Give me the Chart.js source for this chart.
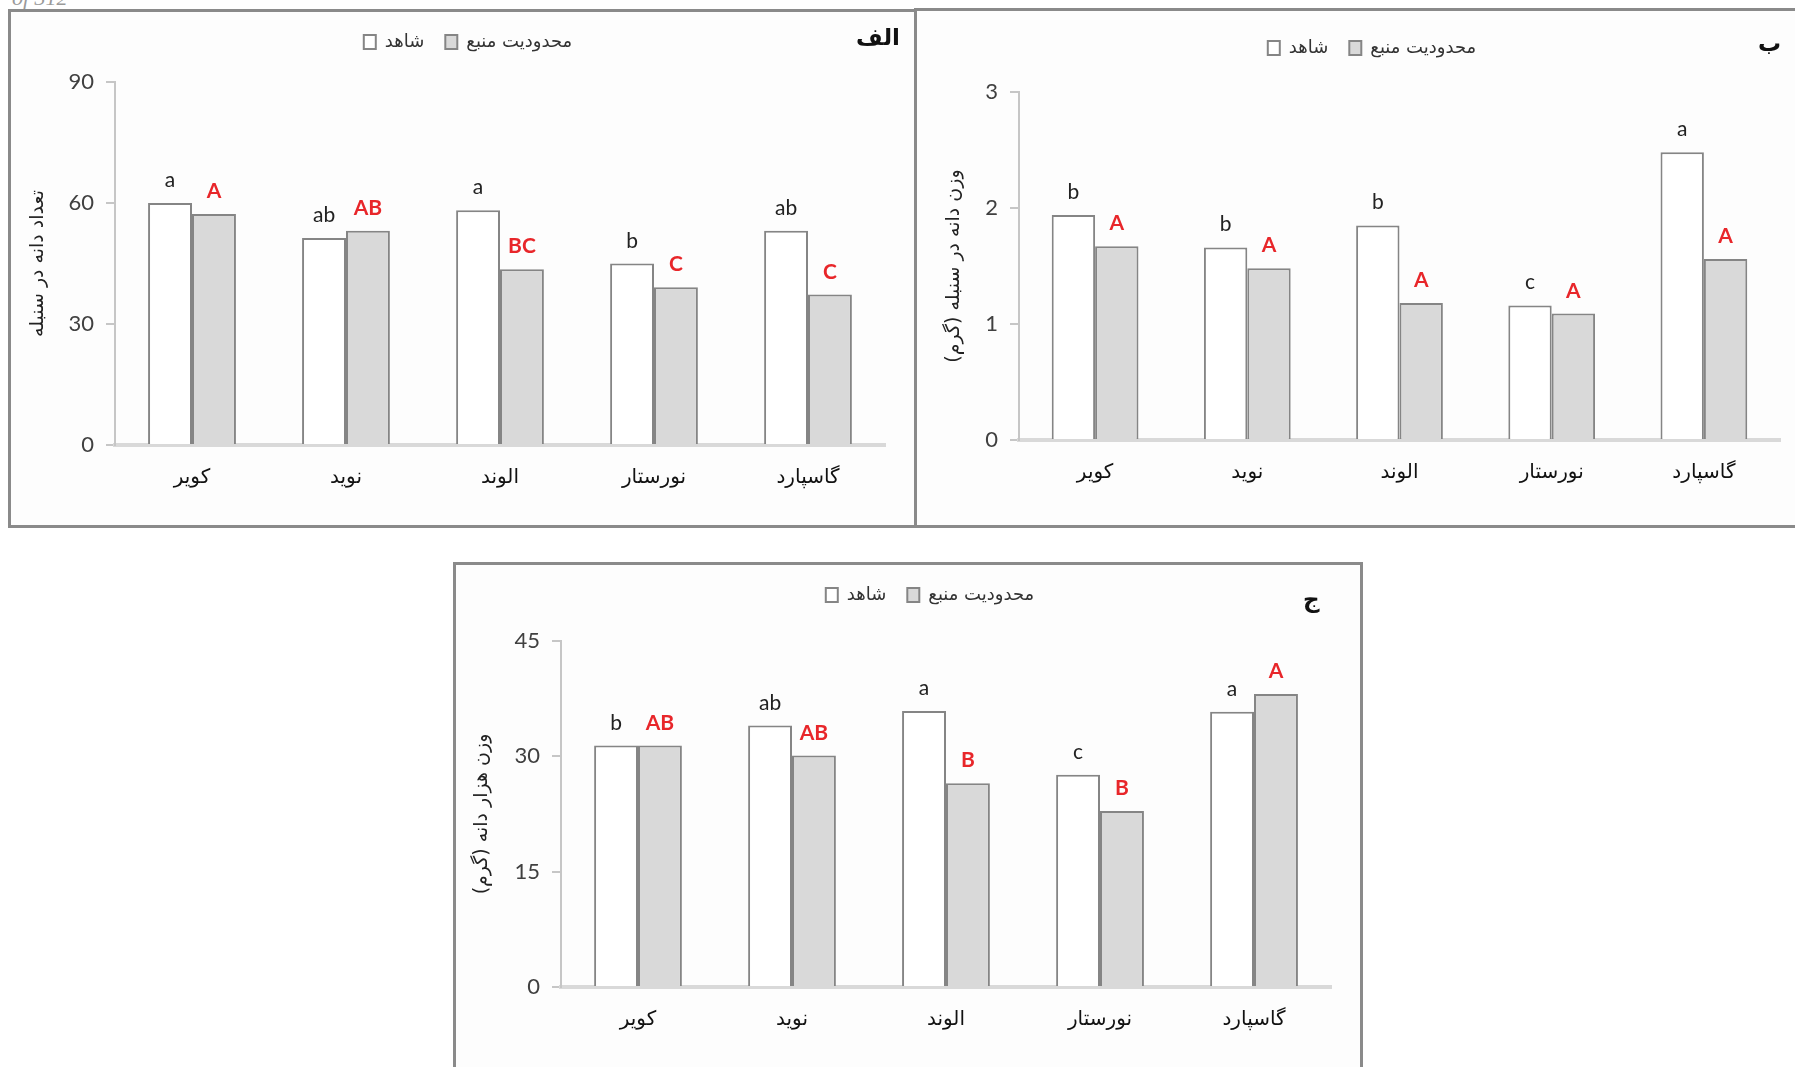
<!DOCTYPE html>
<html lang="fa">
<head>
<meta charset="utf-8">
<script src="https://cdn.jsdelivr.net/npm/chart.js@4.4.0/dist/chart.umd.min.js"></script>
<style>
  html, body { margin: 0; padding: 0; background: #fff; }
  body { width: 1795px; height: 1067px; position: relative; overflow: hidden; font-family: 'DejaVu Sans', sans-serif; }
  .panel { position: absolute; border: 3px solid #8a8a8a; box-sizing: border-box; background: #fdfdfd; }
  canvas { position: absolute; }
  .tag { position: absolute; font-weight: bold; font-size: 23px; color: #111; direction: rtl; white-space: nowrap; }
  .page { position: absolute; left: 12px; top: -15px; font: italic 22px 'Liberation Serif', serif; color: #9a9a9a; }
</style>
</head>
<body>
<div class="page">of 312</div>

<div class="panel" style="left:8px;top:9px;width:910px;height:519px;"></div>
<div class="panel" style="left:914px;top:8px;width:900px;height:520px;"></div>
<div class="panel" style="left:453px;top:562px;width:910px;height:520px;"></div>

<canvas id="chartA" width="903" height="512" style="left:11px;top:12px;width:903px;height:512px;"></canvas>
<canvas id="chartB" width="877" height="512" style="left:918px;top:12px;width:877px;height:512px;"></canvas>
<canvas id="chartC" width="904" height="502" style="left:456px;top:565px;width:904px;height:502px;"></canvas>

<div class="tag" style="left:856px;top:24px;">الف</div>
<div class="tag" style="left:1758px;top:30px;">ب</div>
<div class="tag" style="left:1303px;top:586px;">ج</div>

<script>
// Cultivars (x categories) and the two treatments
const cultivars = ['کویر', 'نوید', 'الوند', 'نورستار', 'گاسپارد'];
const seriesNames = ['شاهد', 'محدودیت منبع'];

// (الف) grains per spike
const grainsControl = [60.0, 51.3, 58.2, 45.0, 53.1];
const grainsLimited = [57.3, 53.1, 43.6, 39.1, 37.3];
const grainsControlLetters = ['a', 'ab', 'a', 'b', 'ab'];
const grainsLimitedLetters = ['A', 'AB', 'BC', 'C', 'C'];
const grainsTicks = [0, 30, 60, 90];

// (ب) grain weight per spike (g)
const spikeWtControl = [1.94, 1.66, 1.85, 1.16, 2.48];
const spikeWtLimited = [1.67, 1.48, 1.18, 1.09, 1.56];
const spikeWtControlLetters = ['b', 'b', 'b', 'c', 'a'];
const spikeWtLimitedLetters = ['A', 'A', 'A', 'A', 'A'];
const spikeWtTicks = [0, 1, 2, 3];

// (ج) thousand grain weight (g)
const tgwControl = [31.4, 34.0, 35.9, 27.6, 35.8];
const tgwLimited = [31.4, 30.1, 26.5, 22.9, 38.1];
const tgwControlLetters = ['b', 'ab', 'a', 'c', 'a'];
const tgwLimitedLetters = ['AB', 'AB', 'B', 'B', 'A'];
const tgwTicks = [0, 15, 30, 45];

const FA_FONT = "'DejaVu Sans', sans-serif";
const NUM_FONT = "Lato, 'Open Sans', sans-serif";

// Mean-separation letters written above each bar
function lettersPlugin(sets) {
  return {
    id: 'meanLetters',
    afterDatasetsDraw(chart) {
      const ctx = chart.ctx;
      sets.forEach((set, di) => {
        const meta = chart.getDatasetMeta(di);
        meta.data.forEach((bar, i) => {
          ctx.save();
          ctx.font = set.bold ? 'bold 21px ' + NUM_FONT : '21px ' + NUM_FONT;
          ctx.fillStyle = set.color;
          ctx.textAlign = 'center';
          ctx.textBaseline = 'alphabetic';
          ctx.fillText(set.letters[i], bar.x, bar.y - 16);
          ctx.restore();
        });
      });
    }
  };
}

function makePanel(id, p) {
  const ticks = p.ticks;
  const scales = {
    gap: {
      axis: 'x', type: 'category', position: 'top', display: true,
      ticks: { display: false }, grid: { display: false, drawTicks: false }, border: { display: false },
      afterFit: s => { s.height = p.gap; }
    },
    x: {
      type: 'category', position: 'bottom',
      grid: { display: false, drawTicks: false },
      border: { display: true, color: '#d9d9d9', width: 4 },
      ticks: { font: { family: FA_FONT, size: 20 }, color: '#111', padding: 21, maxRotation: 0 },
      afterFit: s => { s.height = p.xHeight; }
    },
    y: {
      type: 'linear', position: 'left',
      min: ticks[0], max: ticks[ticks.length - 1],
      afterBuildTicks: s => { s.ticks = ticks.map(v => ({ value: v })); },
      grid: { display: true, drawOnChartArea: false, drawTicks: true, tickLength: 9, color: '#c6c6c6', lineWidth: 2 },
      border: { display: true, color: '#c6c6c6', width: 2 },
      ticks: { font: { family: NUM_FONT, size: 22 }, color: '#404040', padding: 12 },
      title: { display: true, text: p.yTitle, font: { family: FA_FONT, size: 19 }, color: '#222', padding: { top: p.titlePad, bottom: 0 } },
      afterFit: s => { s.width = p.yWidth; }
    }
  };
  if (p.rightGap) {
    scales.rightGap = {
      axis: 'y', type: 'linear', position: 'right', display: true,
      ticks: { display: false }, grid: { display: false, drawTicks: false }, border: { display: false },
      afterFit: s => { s.width = p.rightGap; }
    };
  }
  new Chart(document.getElementById(id), {
    type: 'bar',
    data: {
      labels: cultivars,
      datasets: [
        { label: seriesNames[0], data: p.control, backgroundColor: '#ffffff', borderColor: '#858585', borderWidth: 2, xAxisID: 'x', yAxisID: 'y' },
        { label: seriesNames[1], data: p.limited, backgroundColor: '#d9d9d9', borderColor: '#858585', borderWidth: 2, xAxisID: 'x', yAxisID: 'y' }
      ]
    },
    options: {
      responsive: false,
      animation: false,
      devicePixelRatio: 1,
      datasets: { bar: { categoryPercentage: 0.57, barPercentage: 1.0 } },
      layout: { padding: { left: p.padLeft, right: p.padRight, top: p.padTop, bottom: 0 } },
      plugins: {
        tooltip: { enabled: false },
        legend: {
          position: 'top',
          labels: {
            font: { family: FA_FONT, size: 18 },
            color: '#333',
            boxWidth: 12,
            boxHeight: 14,
            padding: 21
          }
        }
      },
      scales: scales
    },
    plugins: [lettersPlugin([
      { letters: p.controlLetters, color: '#222', bold: false },
      { letters: p.limitedLetters, color: '#e8262a', bold: true }
    ])]
  });
}

makePanel('chartA', {
  control: grainsControl, limited: grainsLimited,
  controlLetters: grainsControlLetters, limitedLetters: grainsLimitedLetters,
  ticks: grainsTicks, yTitle: 'تعداد دانه در سنبله',
  padLeft: 40, padRight: 29, padTop: 0, gap: 21, xHeight: 79, yWidth: 64, titlePad: -24.4
});

makePanel('chartB', {
  control: spikeWtControl, limited: spikeWtLimited,
  controlLetters: spikeWtControlLetters, limitedLetters: spikeWtLimitedLetters,
  ticks: spikeWtTicks, yTitle: 'وزن دانه در سنبله (گرم)',
  padLeft: 46, padRight: 15, padTop: 6, gap: 25, xHeight: 84, yWidth: 55, titlePad: -21.4
});

makePanel('chartC', {
  control: tgwControl, limited: tgwLimited,
  controlLetters: tgwControlLetters, limitedLetters: tgwLimitedLetters,
  ticks: tgwTicks, yTitle: 'وزن هزار دانه (گرم)',
  padLeft: 50, padRight: 6, padTop: 0, gap: 27, xHeight: 80, yWidth: 55, titlePad: -35.4, rightGap: 23
});
</script>
</body>
</html>
